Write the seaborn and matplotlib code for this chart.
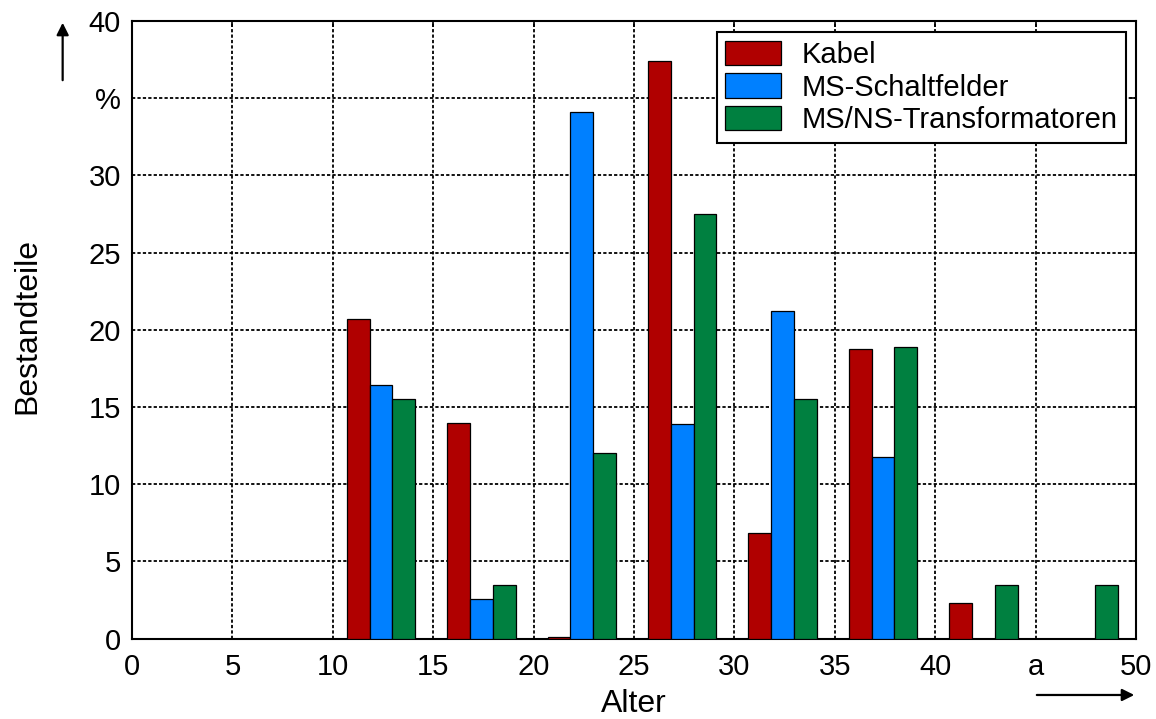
import numpy as np
import pandas as pd
import matplotlib as mpl
import matplotlib.pyplot as plt
import seaborn as sns

# Altersklassen (Beginn der Klasse in Jahren)
alter_start = [0, 5, 10, 15, 20, 25, 30, 35, 40, 45]
kabel = [0, 0, 20.7, 13.95, 0.13, 37.4, 6.83, 18.74, 2.33, 0]
schaltfelder = [0, 0, 16.45, 2.59, 34.09, 13.88, 21.24, 11.75, 0, 0]
trafos = [0, 0, 15.55, 3.46, 12.05, 27.53, 15.52, 18.91, 3.48, 3.48]

serien = ["Kabel", "MS-Schaltfelder", "MS/NS-Transformatoren"]
farben = ["#B00000", "#0080FF", "#008040"]

x_ticks = [0, 5, 10, 15, 20, 25, 30, 35, 40, 45, 50]
x_ticklabels = ["0", "5", "10", "15", "20", "25", "30", "35", "40", "a", "50"]
y_ticks = [0, 5, 10, 15, 20, 25, 30, 35, 40]
y_ticklabels = ["0", "5", "10", "15", "20", "25", "30", "%", "40"]

df = pd.DataFrame({
    "Alter": alter_start * 3,
    "Serie": np.repeat(serien, len(alter_start)),
    "Wert": kabel + schaltfelder + trafos,
})
# Gruppen sitzen leicht rechts in der Klasse
df["pos"] = df["Alter"] + 2.4

sns.set_style("white")
plt.rcParams['font.family'] = ['Liberation Sans', 'DejaVu Sans']
plt.rcParams['text.color'] = 'black'
plt.rcParams['axes.labelcolor'] = 'black'

fig = plt.figure(figsize=(11.56, 7.19), dpi=100)
ax = fig.add_axes([0.1142, 0.1117, 0.8685, 0.8590])

sns.barplot(data=df, x="pos", y="Wert", hue="Serie", hue_order=serien,
            palette=dict(zip(serien, farben)), native_scale=True,
            width=0.68, errorbar=None, edgecolor="black", linewidth=0.9,
            saturation=1, ax=ax, zorder=3)

ax.set_xlim(0, 50)
ax.set_ylim(0, 40)
ax.set_xticks(x_ticks)
ax.set_xticklabels(x_ticklabels)
ax.set_yticks(y_ticks)
ax.set_yticklabels(y_ticklabels)
ax.tick_params(axis="both", direction="in", length=4, width=1.2,
               top=True, right=True, labelsize=21, colors="black")
ax.tick_params(axis="x", pad=10)
ax.tick_params(axis="y", pad=8)
ax.grid(True, color="black", linestyle=(0, (1.8, 1.2)), linewidth=1.3, zorder=0)
ax.set_axisbelow(True)
for s in ax.spines.values():
    s.set_color("black")
    s.set_linewidth(1.5)

ax.set_xlabel("Alter", fontsize=23, color="black")
ax.set_ylabel("Bestandteile", fontsize=23, color="black")
ax.xaxis.set_label_coords(0.5, -0.082)
ax.yaxis.set_label_coords(-0.0895, 0.507)

sns.move_legend(ax, "upper right", bbox_to_anchor=(0.990, 0.982),
                borderaxespad=0, title=None, frameon=True, fancybox=False,
                edgecolor="black", framealpha=1, fontsize=21,
                handlelength=1.9, handleheight=0.9, handletextpad=0.7,
                labelspacing=0.15, borderpad=0.3, labelcolor="black")
ax.get_legend().get_frame().set_linewidth(1.5)

# Pfeile an den Achsen
fig.add_artist(mpl.patches.FancyArrowPatch((0.0542, 0.8846), (0.0542, 0.9722),
               transform=fig.transFigure, arrowstyle="-|>", mutation_scale=18,
               color="black", linewidth=1.6))
fig.add_artist(mpl.patches.FancyArrowPatch((0.8945, 0.0334), (0.9836, 0.0334),
               transform=fig.transFigure, arrowstyle="-|>", mutation_scale=18,
               color="black", linewidth=1.6))

fig.savefig("out.png", dpi=100)
